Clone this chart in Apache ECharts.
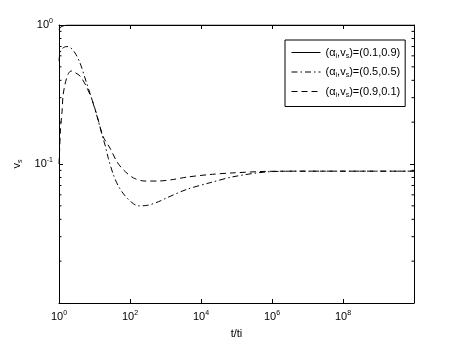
<!DOCTYPE html>
<html>
<head>
<meta charset="utf-8">
<script src="https://cdn.jsdelivr.net/npm/echarts@6/dist/echarts.min.js"></script>
<style>html,body{margin:0;padding:0;background:#fff;}#c{width:457px;height:344px;}</style>
</head>
<body>
<div id="c"></div>
<script>
// Series labels
const alphaI = [0.1, 0.5, 0.9];
const nuS = [0.9, 0.5, 0.1];
const seriesNames = ['(0.1,0.9)', '(0.5,0.5)', '(0.9,0.1)'];

// Series 1 (solid)
const t1 = [1, 1.033, 1.072, 1.14, 1.3, 1.5, 2, 10, 1e10];
const v1 = [0.92, 0.94, 0.955, 0.97, 0.985, 0.995, 1.0, 1.0, 1.0];

// Series 2 (dash-dot)
const t2 = [1, 1.072, 1.259, 1.66, 2.138, 2.818, 3.89, 5.75, 8.32, 11.5, 17.4, 19.8, 24.5, 33.9, 46.8, 72.4, 112, 170, 316, 631, 1072, 3981, 17783, 79433, 7.08e5, 6.3e6, 1e8, 1e10];
const v2 = [0.55, 0.63, 0.68, 0.70, 0.685, 0.63, 0.535, 0.395, 0.295, 0.225, 0.153, 0.137, 0.110, 0.084, 0.0695, 0.059, 0.0529, 0.050, 0.0505, 0.0535, 0.057, 0.0657, 0.0733, 0.0809, 0.0877, 0.0888, 0.0888, 0.0888];

// Series 3 (dashed)
const t3 = [1, 1.033, 1.102, 1.216, 1.297, 1.479, 1.778, 2.188, 2.818, 3.89, 5.62, 8.32, 11.5, 17.4, 27.4, 42.2, 64.6, 123, 263, 631, 1660, 3981, 17783, 79433, 7.08e5, 6.3e6, 1e8, 1e10];
const v3 = [0.10, 0.12, 0.18, 0.237, 0.31, 0.375, 0.44, 0.467, 0.455, 0.43, 0.37, 0.295, 0.228, 0.158, 0.130, 0.1045, 0.091, 0.0796, 0.0754, 0.0754, 0.0774, 0.0805, 0.084, 0.0863, 0.0885, 0.0888, 0.0888, 0.0888];

// Axis ranges / ticks
const xMin = 1, xMax = 1e10;
const yMin = 0.01, yMax = 1;
const yMinorTicks = [0.02, 0.03, 0.04, 0.05, 0.06, 0.07, 0.08, 0.09, 0.2, 0.3, 0.4, 0.5, 0.6, 0.7, 0.8, 0.9];

const FONT = 'Liberation Sans';
const supRich = {
  sup: { fontSize: 7, fontFamily: FONT, color: '#000', padding: [0, 0, 7, 0] }
};
const subRich = {
  sub: { fontSize: 7, fontFamily: FONT, color: '#000', padding: [7, 0, 0, 0] }
};
function expLabel(v) {
  const e = Math.round(Math.log10(v));
  return '10{sup|' + e + '}';
}
function zip(t, v) { return t.map((x, i) => [x, v[i]]); }

const chart = echarts.init(document.getElementById('c'), null, { renderer: 'canvas' });

const lineStyles = [
  { color: '#000', width: 1, type: 'solid' },
  { color: '#000', width: 1, type: [6, 3, 1.5, 3] },
  { color: '#000', width: 1, type: [6, 4] }
];
const tData = [t1, t2, t3];
const vData = [v1, v2, v3];

const series = seriesNames.map((n, i) => ({
  name: n,
  type: 'line',
  xAxisIndex: 0,
  yAxisIndex: 0,
  data: zip(tData[i], vData[i]),
  symbol: 'none',
  showSymbol: false,
  smooth: 0.3,
  lineStyle: lineStyles[i],
  itemStyle: { color: '#000' },
  z: 3
}));

series.push({
  type: 'custom',
  name: 'minorTicks',
  xAxisIndex: 0,
  yAxisIndex: 0,
  silent: true,
  clip: false,
  data: yMinorTicks.map(v => [xMin, v]),
  renderItem: function (params, api) {
    const v = api.value(1);
    const pl = api.coord([xMin, v]);
    const pr = api.coord([xMax, v]);
    return {
      type: 'group',
      children: [
        { type: 'line', shape: { x1: pl[0], y1: pl[1], x2: pl[0] + 2.5, y2: pl[1] }, style: { stroke: '#000', lineWidth: 1 } },
        { type: 'line', shape: { x1: pr[0] - 2.5, y1: pr[1], x2: pr[0], y2: pr[1] }, style: { stroke: '#000', lineWidth: 1 } }
      ]
    };
  },
  z: 4
});

const axisCommon = {
  type: 'log',
  logBase: 10,
  axisLine: { show: true, lineStyle: { color: '#000', width: 1 } },
  axisTick: { show: true, inside: true, length: 4, lineStyle: { color: '#000', width: 1 } },
  splitLine: { show: false },
  minorTick: { show: false },
  minorSplitLine: { show: false }
};

chart.setOption({
  animation: false,
  backgroundColor: '#fff',
  textStyle: { fontFamily: FONT },
  grid: { left: 59, top: 25, right: 43, bottom: 39, containLabel: false },
  xAxis: [
    Object.assign({}, axisCommon, {
      position: 'bottom', min: xMin, max: xMax, interval: 2,
      name: 't/ti', nameLocation: 'middle', nameGap: 25,
      nameTextStyle: { fontSize: 11, fontFamily: FONT, color: '#000' },
      axisLabel: {
        show: true, margin: 7, fontSize: 11, fontFamily: FONT, color: '#000',
        formatter: v => (v >= xMax * 0.99 ? '' : expLabel(v)),
        rich: supRich
      }
    }),
    Object.assign({}, axisCommon, {
      position: 'top', min: xMin, max: xMax, interval: 2,
      axisLabel: { show: false }
    })
  ],
  yAxis: [
    Object.assign({}, axisCommon, {
      position: 'left', min: yMin, max: yMax, interval: 1,
      name: 'v{sub|s}', nameLocation: 'middle', nameGap: 30, nameRotate: 90,
      nameTextStyle: { fontSize: 11, fontFamily: FONT, color: '#000', rich: subRich },
      axisLabel: {
        show: true, margin: 6, fontSize: 11, fontFamily: FONT, color: '#000',
        formatter: v => (v <= yMin * 1.01 ? '' : expLabel(v)),
        rich: supRich
      }
    }),
    Object.assign({}, axisCommon, {
      position: 'right', min: yMin, max: yMax, interval: 1,
      axisLabel: { show: false }
    })
  ],
  legend: {
    show: true,
    data: seriesNames,
    orient: 'vertical',
    left: 285,
    top: 40,
    padding: [7, 5, 8, 6],
    itemGap: 7,
    itemWidth: 29,
    itemHeight: 12,
    borderColor: '#000',
    borderWidth: 1,
    borderRadius: 0,
    backgroundColor: '#fff',
    itemStyle: { opacity: 0, borderWidth: 0 },
    lineStyle: { width: 1 },
    textStyle: { fontSize: 11, fontFamily: FONT, color: '#000', rich: subRich },
    formatter: function (name) {
      const i = seriesNames.indexOf(name);
      return '(α{sub|i},v{sub|s})=(' + alphaI[i] + ',' + nuS[i] + ')';
    }
  },
  series: series
});
</script>
</body>
</html>
